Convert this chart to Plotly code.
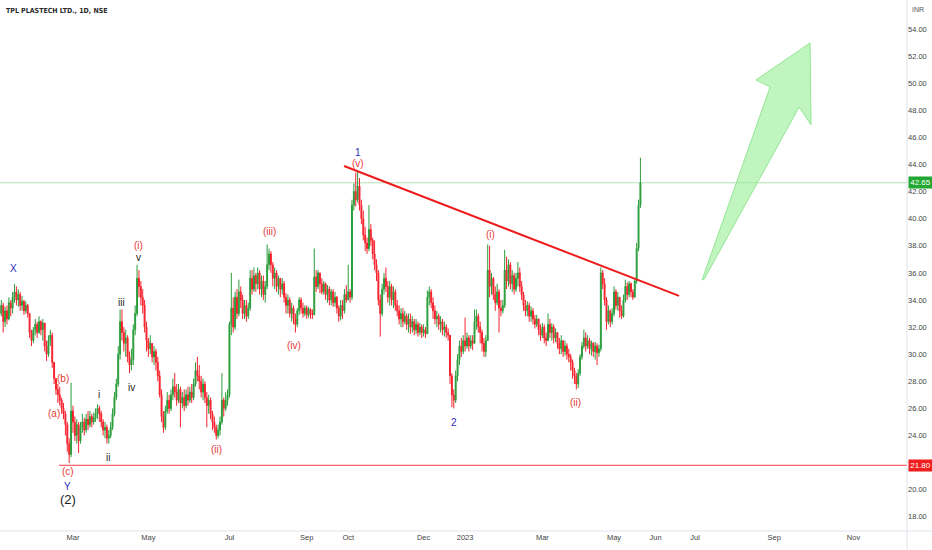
import plotly.graph_objects as go

# ---------------- data ----------------
first_open = 33.6
bar_start = 1  # trading-day index of the first visible candle

closes = [
    33.0, 33.6, 32.4, 33.2, 32.6, 33.8, 33.4, 34.2, 34.6, 34.0,
    34.4, 33.6, 33.9, 33.2, 33.6, 33.0, 31.6, 31.0, 31.8, 32.2,
    31.6, 32.4, 31.8, 32.3, 30.6, 30.0, 31.0, 31.4, 29.4, 28.2,
    27.4, 27.0, 26.6, 26.0, 25.6, 24.8, 23.4, 22.6, 25.8, 25.0,
    24.0, 24.8, 23.6, 24.6, 25.0, 24.4, 25.2, 24.8, 25.4, 25.0,
    25.3, 25.6, 26.0, 25.6, 25.0, 24.4, 24.6, 23.8, 24.0, 24.6,
    25.6, 26.8, 27.8, 30.0, 32.4, 31.6, 30.8, 31.2, 29.8, 29.2,
    29.6, 31.8, 33.0, 35.6, 35.0, 34.2, 33.6, 32.0, 31.0, 30.4,
    30.8, 29.8, 30.2, 29.4, 28.4, 27.0, 25.4, 24.6, 25.8, 26.6,
    26.0, 27.0, 27.6, 27.2, 26.6, 27.4, 26.4, 26.8, 26.2, 27.0,
    26.6, 27.2, 26.8, 27.8, 28.8, 28.4, 28.0, 27.2, 27.8, 26.8,
    26.2, 26.6, 25.6, 25.0, 24.6, 24.0, 24.4, 25.0, 26.6, 26.0,
    26.6, 27.0, 32.2, 33.4, 32.0, 34.2, 33.0, 34.6, 34.0, 33.0,
    33.6, 32.8, 33.4, 35.6, 34.8, 35.8, 35.2, 36.0, 34.8, 35.4,
    34.4, 35.0, 36.6, 37.4, 36.6, 35.6, 36.0, 35.0, 35.6, 34.8,
    35.2, 34.2, 33.6, 34.0, 33.0, 33.4, 32.6, 32.2, 33.2, 34.0,
    33.4, 33.0, 33.4, 32.9, 33.3, 33.0, 32.9, 35.7, 35.0, 36.0,
    35.2, 34.6, 35.2, 34.4, 34.8, 34.0, 34.6, 33.8, 34.2, 33.4,
    32.8, 33.6, 33.2, 34.4, 34.0, 34.6, 34.2, 41.0, 42.0, 41.4,
    42.4, 41.0, 40.0, 38.8, 38.2, 37.8, 39.2, 38.4, 37.4, 36.6,
    36.0, 34.0, 33.0, 34.8, 35.6, 35.0, 34.2, 35.0, 34.0, 34.6,
    33.6, 33.2, 32.6, 33.0, 32.4, 32.8, 32.2, 32.6, 32.0, 32.4,
    31.8, 32.2, 31.6, 32.0, 31.6, 31.8, 31.5, 34.2, 34.6, 33.8,
    33.2, 32.6, 32.8, 32.2, 32.4, 31.8, 32.0, 31.6, 31.4, 28.4,
    27.0, 26.6, 28.4, 29.6, 30.6, 30.2, 31.0, 30.6, 31.2, 30.6,
    31.0, 30.8, 32.4, 32.8, 32.0, 31.6, 30.8, 30.2, 31.0, 36.2,
    35.0, 35.6, 34.4, 33.8, 34.6, 33.4, 33.2, 33.6, 36.2, 35.4,
    36.6, 35.2, 35.8, 34.8, 35.6, 36.0, 35.0, 34.4, 33.6, 33.2,
    33.6, 32.8, 33.2, 32.6, 32.2, 32.6, 31.8, 31.4, 32.0, 31.2,
    31.0, 32.2, 31.6, 32.0, 31.2, 31.6, 30.8, 30.4, 31.0, 30.2,
    30.6, 30.0, 29.8, 29.4, 28.8, 28.4, 27.8, 28.6, 29.8, 30.6,
    31.2, 30.6, 31.0, 30.4, 30.8, 30.2, 30.6, 30.1, 30.4, 36.0,
    35.2, 34.0, 32.4, 33.2, 32.4, 33.0, 34.6, 33.6, 34.2, 33.2,
    32.8, 34.0, 35.0, 34.4, 35.2, 34.6, 34.2, 35.4, 37.8, 41.0,
    42.65,
]

highs = [
    33.8, 34.0, 33.8, 33.5, 33.6, 34.2, 34.0, 34.6, 35.2, 35.0,
    34.8, 34.6, 34.3, 34.0, 33.9, 33.7, 33.0, 31.8, 32.0, 32.6,
    32.4, 32.8, 32.5, 32.6, 32.0, 31.0, 31.4, 31.8, 31.6, 29.0,
    28.2, 27.8, 27.6, 26.8, 26.4, 25.8, 25.0, 23.8, 27.9, 26.2,
    25.4, 25.2, 25.0, 25.0, 25.6, 25.3, 25.6, 25.8, 25.8, 25.6,
    25.7, 26.0, 26.3, 26.2, 25.8, 25.2, 25.0, 24.8, 24.4, 25.0,
    26.0, 27.2, 28.2, 30.6, 33.3, 33.3, 32.0, 31.8, 31.4, 30.2,
    30.4, 32.2, 33.6, 36.6, 36.2, 35.4, 34.8, 34.0, 32.4, 31.2,
    31.4, 30.8, 30.6, 30.4, 29.8, 28.8, 27.4, 25.8, 26.2, 27.2,
    27.0, 27.4, 28.2, 28.6, 27.8, 27.8, 27.6, 27.2, 27.4, 27.4,
    27.6, 27.6, 27.8, 28.2, 29.4, 29.8, 29.2, 28.4, 28.2, 28.0,
    27.2, 27.0, 26.8, 25.8, 25.4, 24.8, 24.8, 25.4, 28.6, 26.8,
    27.2, 27.4, 32.4, 36.0, 34.2, 34.6, 34.8, 35.5, 35.0, 34.4,
    34.0, 34.0, 33.8, 36.2, 36.2, 36.4, 36.0, 36.4, 36.2, 35.8,
    35.8, 35.4, 38.1, 37.8, 37.6, 36.8, 36.4, 36.2, 35.8, 35.6,
    35.6, 35.4, 34.5, 34.4, 34.2, 33.8, 33.6, 33.0, 33.4, 34.2,
    34.2, 33.8, 33.6, 33.6, 33.5, 33.4, 33.3, 37.8, 36.2, 36.2,
    36.0, 35.6, 35.4, 35.3, 35.1, 35.0, 34.8, 34.8, 34.6, 34.3,
    33.6, 34.0, 34.0, 34.8, 35.1, 36.6, 34.8, 41.4, 42.6, 43.4,
    43.6, 43.0, 41.4, 40.6, 39.4, 38.6, 41.0, 39.6, 38.6, 38.4,
    37.0, 36.2, 34.4, 35.2, 36.0, 36.4, 35.4, 35.4, 35.2, 35.0,
    34.8, 34.0, 33.6, 33.4, 33.4, 33.2, 33.0, 33.0, 33.0, 32.8,
    32.6, 32.6, 32.4, 32.3, 32.2, 32.2, 32.0, 34.7, 35.0, 34.8,
    34.2, 33.6, 33.2, 33.0, 32.8, 32.6, 32.4, 32.2, 31.9, 31.4,
    28.6, 27.4, 28.8, 30.0, 31.0, 31.2, 31.4, 32.7, 31.6, 31.4,
    31.4, 31.4, 33.3, 33.3, 33.0, 32.4, 31.8, 31.2, 31.4, 38.1,
    38.0, 36.0, 35.7, 35.0, 35.2, 34.8, 34.0, 34.0, 37.7, 37.2,
    37.0, 36.8, 36.2, 36.0, 36.0, 36.8, 36.4, 35.4, 34.6, 34.0,
    33.9, 33.8, 33.5, 33.4, 32.9, 32.9, 32.6, 32.2, 32.3, 32.2,
    31.6, 33.0, 32.6, 32.3, 32.2, 31.9, 31.6, 31.2, 31.4, 31.0,
    31.0, 30.8, 30.4, 30.0, 29.6, 29.0, 28.6, 28.9, 30.0, 30.9,
    31.8, 31.6, 31.4, 31.2, 31.0, 30.9, 30.9, 30.8, 30.7, 36.4,
    36.2, 35.6, 34.2, 33.6, 33.3, 33.4, 35.0, 34.8, 34.6, 34.2,
    33.6, 34.4, 35.5, 35.3, 35.4, 35.3, 34.8, 35.6, 38.2, 41.4,
    44.5,
]

lows = [
    32.2, 32.8, 31.6, 32.0, 32.2, 32.5, 32.8, 33.0, 33.8, 33.6,
    33.5, 33.2, 33.2, 32.9, 33.0, 32.7, 31.2, 30.6, 30.8, 31.4,
    31.2, 31.5, 31.4, 31.0, 30.2, 29.5, 29.8, 30.6, 29.0, 27.8,
    27.0, 26.4, 26.2, 25.6, 25.2, 24.0, 22.8, 21.97, 22.4, 24.2,
    23.6, 23.4, 22.7, 23.4, 24.2, 24.0, 24.2, 24.4, 24.6, 24.6,
    24.8, 25.0, 25.2, 25.0, 24.6, 24.0, 23.8, 23.4, 23.4, 23.8,
    24.4, 25.4, 26.6, 27.6, 29.6, 31.0, 30.2, 29.8, 29.4, 28.6,
    28.8, 29.2, 31.4, 32.8, 34.2, 33.6, 33.0, 31.6, 30.2, 29.8,
    30.0, 29.4, 29.2, 28.8, 28.0, 26.8, 25.0, 24.2, 24.4, 25.6,
    25.6, 25.8, 26.6, 26.8, 26.2, 26.4, 24.6, 26.0, 25.8, 26.0,
    26.2, 26.4, 26.4, 26.6, 27.6, 28.0, 27.4, 26.8, 26.6, 26.4,
    24.6, 25.6, 25.2, 24.4, 24.2, 23.7, 23.8, 24.0, 24.8, 25.4,
    25.8, 26.2, 26.8, 31.4, 31.6, 31.8, 32.6, 32.8, 33.4, 32.6,
    32.6, 32.4, 32.6, 33.2, 34.4, 34.6, 34.6, 34.8, 34.4, 34.2,
    34.0, 33.8, 34.8, 36.2, 36.0, 35.0, 34.8, 34.6, 34.4, 34.2,
    34.4, 33.8, 33.0, 33.0, 32.7, 32.4, 32.2, 31.6, 32.0, 32.9,
    33.0, 32.7, 32.8, 32.6, 32.7, 32.6, 32.6, 32.9, 34.6, 34.8,
    34.5, 34.4, 34.4, 34.0, 33.8, 33.6, 33.6, 33.5, 33.5, 33.0,
    32.4, 32.5, 32.6, 33.0, 33.8, 34.0, 33.8, 34.0, 40.6, 40.9,
    41.2, 40.6, 39.6, 38.4, 37.6, 37.4, 37.6, 38.0, 37.0, 36.2,
    35.4, 33.6, 31.3, 32.8, 34.4, 34.6, 33.8, 33.6, 33.6, 33.4,
    33.2, 32.8, 32.2, 32.0, 32.0, 32.2, 31.8, 31.6, 31.5, 31.6,
    31.4, 31.5, 31.3, 31.4, 31.2, 31.3, 31.2, 31.5, 33.6, 33.4,
    32.6, 32.2, 32.0, 31.8, 31.6, 31.4, 31.3, 31.2, 31.0, 27.8,
    26.1, 26.0, 26.4, 28.0, 29.2, 29.8, 30.0, 30.2, 30.4, 30.2,
    30.4, 30.3, 30.8, 31.8, 31.6, 30.8, 30.2, 29.8, 29.8, 31.0,
    34.2, 34.4, 34.0, 33.2, 33.6, 31.6, 32.8, 33.0, 33.4, 34.8,
    35.0, 34.8, 34.6, 34.4, 34.6, 35.0, 34.6, 34.0, 33.2, 32.8,
    32.8, 32.4, 32.4, 32.2, 31.9, 32.0, 31.4, 31.0, 31.2, 30.8,
    30.6, 31.0, 31.2, 31.0, 30.8, 30.9, 30.4, 30.0, 30.0, 29.8,
    29.9, 29.6, 29.4, 28.8, 28.2, 27.8, 27.4, 27.5, 28.4, 29.6,
    30.4, 30.2, 30.4, 30.0, 29.9, 29.8, 29.6, 29.2, 29.8, 30.2,
    34.8, 33.6, 31.8, 32.2, 32.0, 32.2, 32.8, 33.3, 33.2, 32.7,
    32.6, 32.7, 33.8, 34.0, 34.2, 34.2, 34.0, 34.2, 35.2, 37.6,
    40.8,
]

tick_labels = ["Mar", "May", "Jul", "Sep", "Oct", "Dec", "2023",
               "Mar", "May", "Jun", "Jul", "Sep", "Nov"]
tick_bars = [40, 80, 123, 164, 186, 226, 248, 289, 327, 349, 370, 412, 454]
# 22.00 sits under the 21.80 price badge in the reference, so it is not shown
price_ticks = [18, 20, 24, 26, 28, 30, 32, 34, 36, 38, 40, 42, 44, 46, 48, 50, 52, 54]

last_price = 42.65
support_price = 21.80

# wave labels: text, bar index, price, colour key
wave_labels = [
    ("X", 8.7, 36.29, "blue"), ("(b)", 34.7, 28.24, "red"), ("(a)", 29.9, 25.59, "red"),
    ("(c)", 37.3, 21.31, "red"), ("Y", 37.3, 20.20, "blue"), ("(2)", 37.3, 19.25, "black"),
    ("i", 53.8, 27.06, "black"), ("ii", 58.6, 22.41, "black"), ("iii", 66.0, 33.85, "black"),
    ("iv", 70.8, 27.51, "black"), ("v", 74.5, 37.10, "black"), ("(i)", 74.5, 37.99, "red"),
    ("(ii)", 116.4, 22.93, "red"), ("(iii)", 144.0, 39.02, "red"), ("(iv)", 157.2, 30.61, "red"),
    ("1", 191.2, 44.92, "blue"), ("(v)", 191.2, 44.11, "red"), ("2", 242.1, 24.99, "blue"),
    ("(i)", 261.7, 38.87, "red"), ("(ii)", 306.8, 26.47, "red"),
]
trend_bars = [183.8, 361.5]
trend_prices = [43.89, 34.30]
arrow_bars = [373.7, 409.8, 402.3, 431.0, 431.5, 425.2, 374.9]
arrow_prices = [35.48, 49.72, 50.24, 52.97, 46.92, 48.24, 35.55]
support_start_bar = 32.6

# ---------------- build ----------------
n = min(len(closes), len(highs), len(lows))
closes, highs, lows = closes[:n], highs[:n], lows[:n]
opens = [first_open] + closes[:-1]
bars = list(range(bar_start, bar_start + n))

UP = "#2a9d3a"
DOWN = "#f5222d"
fig = go.Figure()
fig.add_trace(go.Candlestick(
    x=bars, open=opens, high=highs, low=lows, close=closes,
    increasing=dict(line=dict(color=UP, width=1), fillcolor=UP),
    decreasing=dict(line=dict(color=DOWN, width=1), fillcolor=DOWN),
    whiskerwidth=0, showlegend=False, hoverinfo="skip",
))

x_min, x_max = 1.3, 482.4
shapes = []
# last price line
shapes.append(dict(type="line", xref="x", yref="y", x0=x_min, x1=x_max, y0=last_price, y1=last_price,
                   line=dict(color="#b5dfb5", width=1), layer="below"))
# support line
shapes.append(dict(type="line", xref="x", yref="y", x0=support_start_bar, x1=x_max,
                   y0=support_price, y1=support_price, line=dict(color="#f23645", width=1)))
# trend line
shapes.append(dict(type="line", xref="x", yref="y", x0=trend_bars[0], x1=trend_bars[1],
                   y0=trend_prices[0], y1=trend_prices[1], line=dict(color="#ee1c1c", width=2)))
# arrow
path = "M " + " L ".join(f"{b},{p}" for b, p in zip(arrow_bars, arrow_prices)) + " Z"
shapes.append(dict(type="path", xref="x", yref="y", path=path,
                   fillcolor="rgba(150,238,150,0.6)", line=dict(color="rgba(130,225,130,0.8)", width=1)))
# axis separators
shapes.append(dict(type="line", xref="paper", yref="paper", x0=1, x1=1, y0=-0.04, y1=1,
                   line=dict(color="#e0e3eb", width=1)))
shapes.append(dict(type="line", xref="paper", yref="paper", x0=0, x1=1.03, y0=0, y1=0,
                   line=dict(color="#e0e3eb", width=1)))

colors = {"red": "#e53935", "blue": "#2b2bb8", "black": "#222222"}
annotations = []
for text, b, p, c in wave_labels:
    annotations.append(dict(x=b, y=p, xref="x", yref="y", text=text, showarrow=False,
                            font=dict(family="Liberation Sans, Arial, sans-serif",
                                      size=13 if text == "(2)" else 10, color=colors[c])))
annotations.append(dict(x=0.004, y=1, xref="paper", yref="paper", xanchor="left", yanchor="top",
                        yshift=-5, text="<b>TPL PLASTECH LTD., 1D, NSE</b>", showarrow=False,
                        font=dict(family="DejaVu Sans Condensed, Liberation Sans Narrow, Liberation Sans",
                                  size=7, color="#2a2a2a")))
annotations.append(dict(x=1, y=1, xref="paper", yref="paper", xanchor="left", yanchor="top",
                        xshift=3, yshift=-4, text="INR", showarrow=False,
                        font=dict(family="Liberation Sans, Arial", size=7, color="#555555")))
for val, bg in ((last_price, "#22a832"), (support_price, "#f01f1f")):
    annotations.append(dict(x=1, y=val, xref="paper", yref="y", xanchor="left", yanchor="middle",
                            xshift=1, text=f"{val:.2f}", showarrow=False, bgcolor=bg,
                            borderpad=1, width=21,
                            font=dict(family="Liberation Sans, Arial", size=8, color="white")))

fig.update_layout(
    width=932, height=550,
    margin=dict(l=0, r=25, t=0, b=19),
    paper_bgcolor="white", plot_bgcolor="white",
    shapes=shapes, annotations=annotations,
    xaxis=dict(range=[x_min, x_max], rangeslider=dict(visible=False), showgrid=False,
               zeroline=False, showline=False, tickmode="array", tickvals=tick_bars,
               ticktext=tick_labels, ticks="", tickfont=dict(family="Liberation Sans, Arial",
                                                             size=7.5, color="#444444")),
    yaxis=dict(range=[16.95, 56.14], side="right", showgrid=False, zeroline=False,
               showline=False, tickmode="array", tickvals=price_ticks,
               ticktext=[f"{v:.2f}" for v in price_ticks], ticks="",
               tickfont=dict(family="Liberation Sans, Arial", size=7.5, color="#444444")),
)

fig.write_html("out.html", config={"displayModeBar": False},
               post_script="document.body.style.margin='0';document.body.style.overflow='hidden';")
